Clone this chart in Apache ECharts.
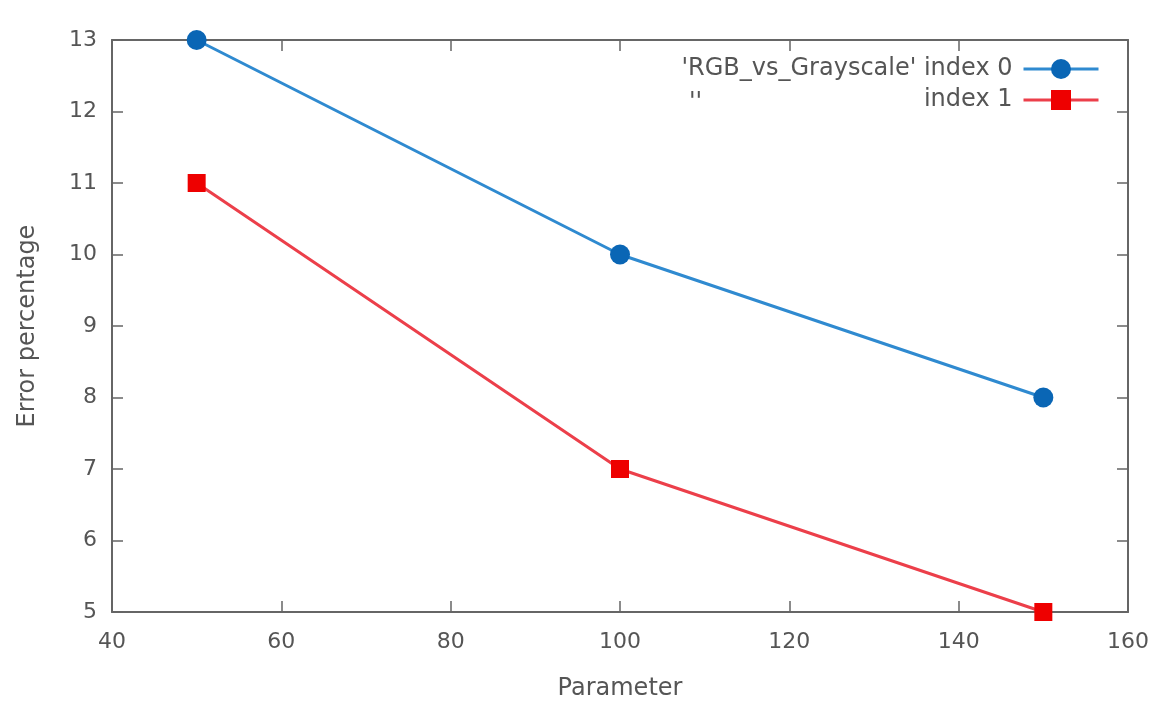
<!DOCTYPE html>
<html>
<head>
<meta charset="utf-8">
<script src="https://cdn.jsdelivr.net/npm/echarts@6/dist/echarts.min.js"></script>
<style>
  html, body { margin: 0; padding: 0; background: #fff; }
  #chart { width: 1164px; height: 706px; }
</style>
</head>
<body>
<div id="chart"></div>
<script>
const params = [50, 100, 150];
const index0 = [13, 10, 8];
const index1 = [11, 7, 5];
const seriesNames = ["'RGB_vs_Grayscale' index 0", 'index 1'];

const axisGray = '#555';
const font = 'DejaVu Sans';

const toPoints = vals => params.map((p, i) => [p, vals[i]]);

const chart = echarts.init(document.getElementById('chart'));

const xBase = {
  type: 'value', min: 40, max: 160, interval: 20,
  axisLine: { show: true, lineStyle: { color: '#666', width: 2 } },
  axisTick: { show: true, inside: true, length: 11, lineStyle: { color: '#666', width: 1.5 } },
  splitLine: { show: false }
};
const yBase = {
  type: 'value', min: 5, max: 13, interval: 1,
  axisLine: { show: true, lineStyle: { color: '#666', width: 2 } },
  axisTick: { show: true, inside: true, length: 11, lineStyle: { color: '#666', width: 1.5 } },
  splitLine: { show: false }
};

chart.setOption({
  backgroundColor: '#fff',
  animation: false,
  grid: { left: 112, right: 36, top: 40, bottom: 87 },
  xAxis: [
    Object.assign({}, xBase, {
      position: 'bottom',
      name: 'Parameter', nameLocation: 'middle', nameGap: 65,
      nameTextStyle: { color: axisGray, fontFamily: font, fontSize: 24 },
      axisLabel: { color: axisGray, fontFamily: font, fontSize: 22, margin: 19 }
    }),
    Object.assign({}, xBase, { position: 'top', axisLabel: { show: false } })
  ],
  yAxis: [
    Object.assign({}, yBase, {
      position: 'left',
      name: 'Error percentage', nameLocation: 'middle', nameGap: 72,
      nameTextStyle: { color: axisGray, fontFamily: font, fontSize: 24 },
      axisLabel: { color: axisGray, fontFamily: font, fontSize: 22, margin: 15 }
    }),
    Object.assign({}, yBase, { position: 'right', axisLabel: { show: false } })
  ],
  legend: {
    orient: 'vertical', right: 64, top: 57, align: 'right', padding: 0,
    itemWidth: 75, itemHeight: 25, itemGap: 7,
    lineStyle: { width: 3 },
    textStyle: { color: axisGray, fontFamily: font, fontSize: 24, padding: [0, 6, 0, 0] },
    data: seriesNames
  },
  graphic: [{
    type: 'text', left: 689, top: 91,
    style: { text: "''", fill: axisGray, font: '24px "DejaVu Sans"' }
  }],
  series: [
    {
      name: seriesNames[0], type: 'line', xAxisIndex: 0, yAxisIndex: 0,
      data: toPoints(index0), clip: false, z: 5,
      symbol: 'circle', symbolSize: 20,
      lineStyle: { color: '#2f8ad0', width: 3 },
      itemStyle: { color: '#0a66b5' }
    },
    {
      name: seriesNames[1], type: 'line', xAxisIndex: 0, yAxisIndex: 0,
      data: toPoints(index1), clip: false, z: 5,
      symbol: 'rect', symbolSize: 18,
      lineStyle: { color: '#ec3f4a', width: 3 },
      itemStyle: { color: '#ee0000' }
    }
  ]
});
</script>
</body>
</html>
